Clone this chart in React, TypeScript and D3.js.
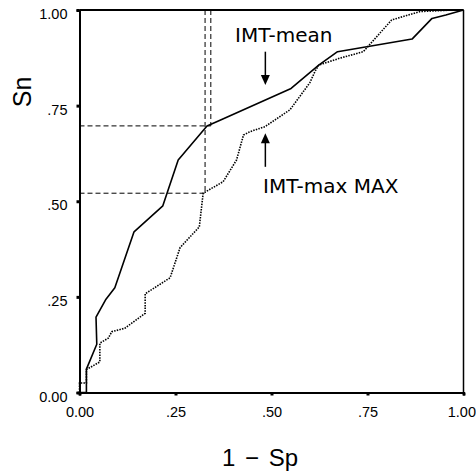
import React, { useEffect, useRef } from 'react'
import * as d3 from 'd3'

// ROC curves
const meanX = [0, 0.018, 0.018, 0.045, 0.043, 0.069, 0.092, 0.142, 0.217, 0.257, 0.332, 0.366, 0.551, 0.623, 0.672, 0.866, 0.918, 0.954, 1]
const meanY = [0, 0, 0.061, 0.126, 0.197, 0.244, 0.274, 0.42, 0.488, 0.608, 0.697, 0.712, 0.795, 0.856, 0.891, 0.924, 0.978, 0.987, 1]

const maxX = [0, 0, 0.018, 0.018, 0.053, 0.053, 0.075, 0.084, 0.118, 0.171, 0.171, 0.236, 0.262, 0.312, 0.322, 0.374, 0.409, 0.427, 0.444, 0.483, 0.548, 0.6, 0.613, 0.623, 0.678, 0.739, 0.813, 0.887, 0.973, 1]
const maxY = [0, 0.025, 0.025, 0.06, 0.08, 0.129, 0.142, 0.159, 0.168, 0.207, 0.258, 0.3, 0.379, 0.433, 0.521, 0.551, 0.608, 0.673, 0.682, 0.695, 0.739, 0.81, 0.839, 0.856, 0.874, 0.891, 0.974, 0.996, 1, 1]

// cut-off guide lines (1 - Sp, Sn)
const refX = [0.327, 0.342]
const refY = [0.521, 0.697]

const tickValues = [0, 0.25, 0.5, 0.75, 1]
const tickLabels = ['0.00', '.25', '.50', '.75', '1.00']

const W = 476
const H = 471

function Chart() {
  const ref = useRef<SVGSVGElement>(null)

  useEffect(() => {
    const svg = d3.select(ref.current)
    svg.selectAll('*').remove()

    const x = d3.scaleLinear().domain([0, 1]).range([79.5, 463.5])
    const y = d3.scaleLinear().domain([0, 1]).range([392.5, 10])

    const g = svg.append('g')

    // frame
    g.append('line').attr('x1', x(0)).attr('x2', x(1)).attr('y1', y(1)).attr('y2', y(1))
      .attr('stroke', '#000').attr('stroke-width', 2)
    g.append('line').attr('x1', x(1)).attr('x2', x(1)).attr('y1', y(0)).attr('y2', y(1))
      .attr('stroke', '#000').attr('stroke-width', 1.5)

    // axes
    const xAxis = d3.axisBottom(x).tickValues(tickValues)
      .tickFormat((d, i) => tickLabels[i]).tickSize(3).tickPadding(11)
    const yAxis = d3.axisLeft(y).tickValues(tickValues)
      .tickFormat((d, i) => tickLabels[i]).tickSize(3).tickPadding(9)

    const gx = g.append('g').attr('transform', `translate(0,${y(0)})`).call(xAxis)
    const gy = g.append('g').attr('transform', `translate(${x(0)},0)`).call(yAxis)

    for (const ax of [gx, gy]) {
      ax.select('.domain').attr('stroke', '#000').attr('stroke-width', 2)
      ax.selectAll('.tick line').attr('stroke', '#000').attr('stroke-width', 3)
      ax.selectAll('.tick text')
        .attr('fill', '#000')
        .style('font-family', '"Liberation Sans", Arial, sans-serif')
        .style('font-size', '14.5px')
    }
    gy.selectAll('.tick text').attr('dy', '0.6em')
    // last x label sits against the page edge
    gx.selectAll<SVGTextElement, number>('.tick text')
      .filter(d => d === 1)
      .attr('text-anchor', 'end')
      .attr('dx', 12)

    // dashed guides
    refX.forEach((rx, i) => {
      g.append('line').attr('x1', x(rx)).attr('x2', x(rx)).attr('y1', y(1)).attr('y2', y(refY[i]))
        .attr('stroke', '#000').attr('stroke-width', 1).attr('stroke-dasharray', '5,3')
      g.append('line').attr('x1', x(0)).attr('x2', x(rx)).attr('y1', y(refY[i])).attr('y2', y(refY[i]))
        .attr('stroke', '#000').attr('stroke-width', 1).attr('stroke-dasharray', '5,3')
    })

    const line = d3.line<[number, number]>().x(d => x(d[0])).y(d => y(d[1]))

    const meanPts = meanX.map((v, i) => [v, meanY[i]] as [number, number])
    const maxPts = maxX.map((v, i) => [v, maxY[i]] as [number, number])

    g.append('path').attr('d', line(maxPts))
      .attr('fill', 'none').attr('stroke', '#000').attr('stroke-width', 1.6)
      .attr('stroke-dasharray', '1.5,1.2')
    g.append('path').attr('d', line(meanPts))
      .attr('fill', 'none').attr('stroke', '#000').attr('stroke-width', 1.6)
      .attr('stroke-linejoin', 'round')

    // annotations
    const annFont = '"DejaVu Sans", Verdana, sans-serif'
    g.append('text').attr('x', x(0.405)).attr('y', y(0.916)).text('IMT-mean')
      .style('font-family', annFont).style('font-size', '20px')
    g.append('text').attr('x', x(0.478)).attr('y', y(0.521)).text('IMT-max MAX')
      .style('font-family', annFont).style('font-size', '20px')

    const arrow = (ax: number, from: number, to: number) => {
      const x0 = x(ax), y0 = y(from), y1 = y(to)
      const dir = y1 > y0 ? 1 : -1
      g.append('line').attr('x1', x0).attr('x2', x0).attr('y1', y0).attr('y2', y1 - dir * 8)
        .attr('stroke', '#000').attr('stroke-width', 1.5)
      g.append('path')
        .attr('d', `M${x0},${y1}L${x0 - 4.5},${y1 - dir * 10}L${x0 + 4.5},${y1 - dir * 10}Z`)
        .attr('fill', '#000')
    }
    arrow(0.484, 0.891, 0.804)
    arrow(0.484, 0.59, 0.678)

    // axis titles
    svg.append('text')
      .attr('transform', `translate(31,${y(0.786)}) rotate(-90)`)
      .attr('text-anchor', 'middle')
      .style('font-family', '"Liberation Sans", Arial, sans-serif')
      .style('font-size', '25px')
      .text('Sn')
    svg.append('text')
      .attr('x', 260).attr('y', 466)
      .attr('text-anchor', 'middle')
      .style('font-family', '"Liberation Sans", Arial, sans-serif')
      .style('font-size', '24px')
      .style('word-spacing', '3px')
      .text('1 − Sp')
  }, [])

  return <svg ref={ref} width={W} height={H} style={{ display: 'block', background: '#fff' }} />
}

export default function App() {
  return (
    <div>
      <style>{'body{margin:0;background:#fff}'}</style>
      <Chart />
    </div>
  )
}
